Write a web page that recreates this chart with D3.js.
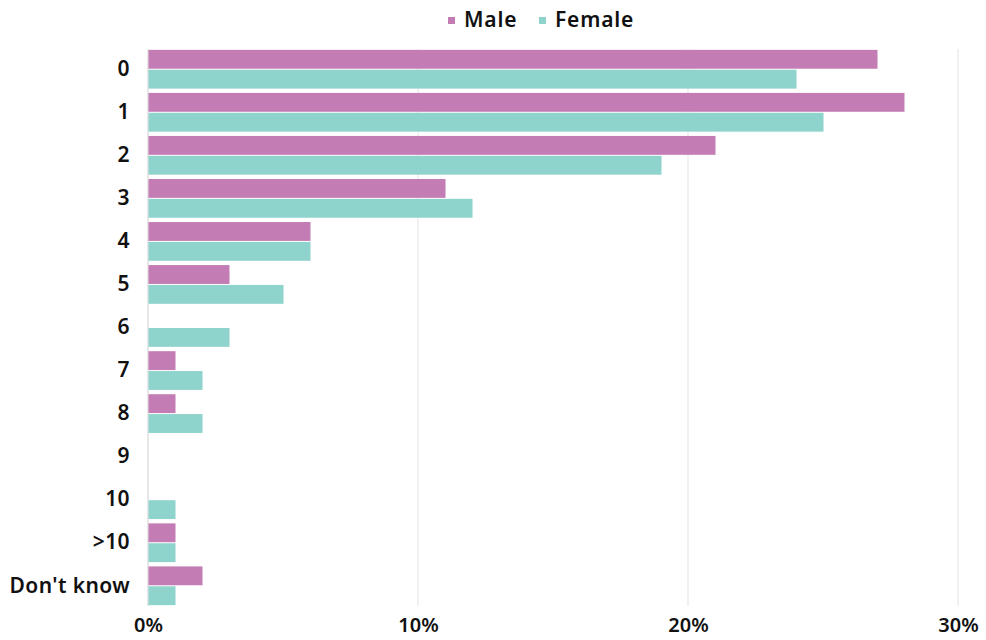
<!DOCTYPE html>
<html>
<head>
<meta charset="utf-8">
<script src="https://cdn.jsdelivr.net/npm/d3@7"></script>
<style>
  body { margin: 0; background: #fff; }
  svg text { font-family: "Noto Sans", "Open Sans", sans-serif; font-weight: 600; fill: #111; }
</style>
</head>
<body>
<svg id="chart" width="986" height="640"></svg>
<script>
// Number of ... per respondent, share by gender (%)
const categories = ["0", "1", "2", "3", "4", "5", "6", "7", "8", "9", "10", ">10", "Don't know"];
const maleValues   = [27, 28, 21, 11, 6, 3, 0, 1, 1, 0, 0, 1, 2];
const femaleValues = [24, 25, 19, 12, 6, 5, 3, 2, 2, 0, 1, 1, 1];
const xTicks = [0, 10, 20, 30];
const seriesNames = ["Male", "Female"];
const seriesColors = ["#c47db4", "#8fd3cd"];

const svg = d3.select("#chart");
const margin = { left: 148, right: 28, top: 49, bottom: 34 };
const width = 986, height = 640;
const fontFamily = "'Noto Sans', 'Open Sans', sans-serif";

const x = d3.scaleLinear().domain([0, 30]).range([margin.left, width - margin.right]);
const y = d3.scaleBand().domain(categories).range([margin.top, height - margin.bottom]).paddingInner(0.1).paddingOuter(0.02);
const inner = d3.scaleBand().domain(seriesNames).range([0, y.bandwidth()]).paddingInner(0.05);

// vertical gridlines
svg.append("g")
  .selectAll("line")
  .data(xTicks)
  .join("line")
  .attr("x1", d => x(d)).attr("x2", d => x(d))
  .attr("y1", margin.top).attr("y2", height - margin.bottom)
  .attr("stroke", d => d === 0 ? "#cfcfcf" : "#e3e3e3")
  .attr("stroke-width", 1);

// bars
const rows = categories.map((c, i) => ({ c, vals: [maleValues[i], femaleValues[i]] }));
const groups = svg.append("g").selectAll("g")
  .data(rows).join("g")
  .attr("transform", d => `translate(0,${y(d.c)})`);

groups.selectAll("rect")
  .data(d => d.vals.map((v, j) => ({ v, s: seriesNames[j], color: seriesColors[j] })))
  .join("rect")
  .filter(d => d.v > 0)
  .attr("x", x(0) + 0.5)
  .attr("y", d => inner(d.s))
  .attr("width", d => x(d.v) - x(0))
  .attr("height", inner.bandwidth())
  .attr("fill", d => d.color);

// y-axis labels
const yAxis = d3.axisLeft(y).tickSize(0).tickPadding(18);
const gy = svg.append("g").attr("transform", `translate(${margin.left},0)`).call(yAxis);
gy.select(".domain").remove();
gy.selectAll("text")
  .attr("font-size", 21)
  .style("font-family", fontFamily).style("font-weight", 600)
  .style("letter-spacing", "0.4px")
  .attr("fill", "#111");

// x-axis labels
const xAxis = d3.axisBottom(x).tickValues(xTicks).tickFormat(d => d + "%").tickSize(0).tickPadding(12);
const gx = svg.append("g").attr("transform", `translate(0,${height - margin.bottom})`).call(xAxis);
gx.select(".domain").remove();
gx.selectAll("text")
  .attr("font-size", 20)
  .style("font-family", fontFamily).style("font-weight", 600)
  .attr("fill", "#111");

// legend
const legend = svg.append("g").attr("transform", "translate(448,20)");
const legendX = [0, 91];
seriesNames.forEach((name, i) => {
  const g = legend.append("g").attr("transform", `translate(${legendX[i]},0)`);
  g.append("rect").attr("x", 0).attr("y", -3).attr("width", 7).attr("height", 7).attr("fill", seriesColors[i]);
  g.append("text").attr("x", 16).attr("y", 0).attr("dy", "0.35em")
    .attr("font-size", 21).style("letter-spacing", "0.8px").text(name);
});
</script>
</body>
</html>
